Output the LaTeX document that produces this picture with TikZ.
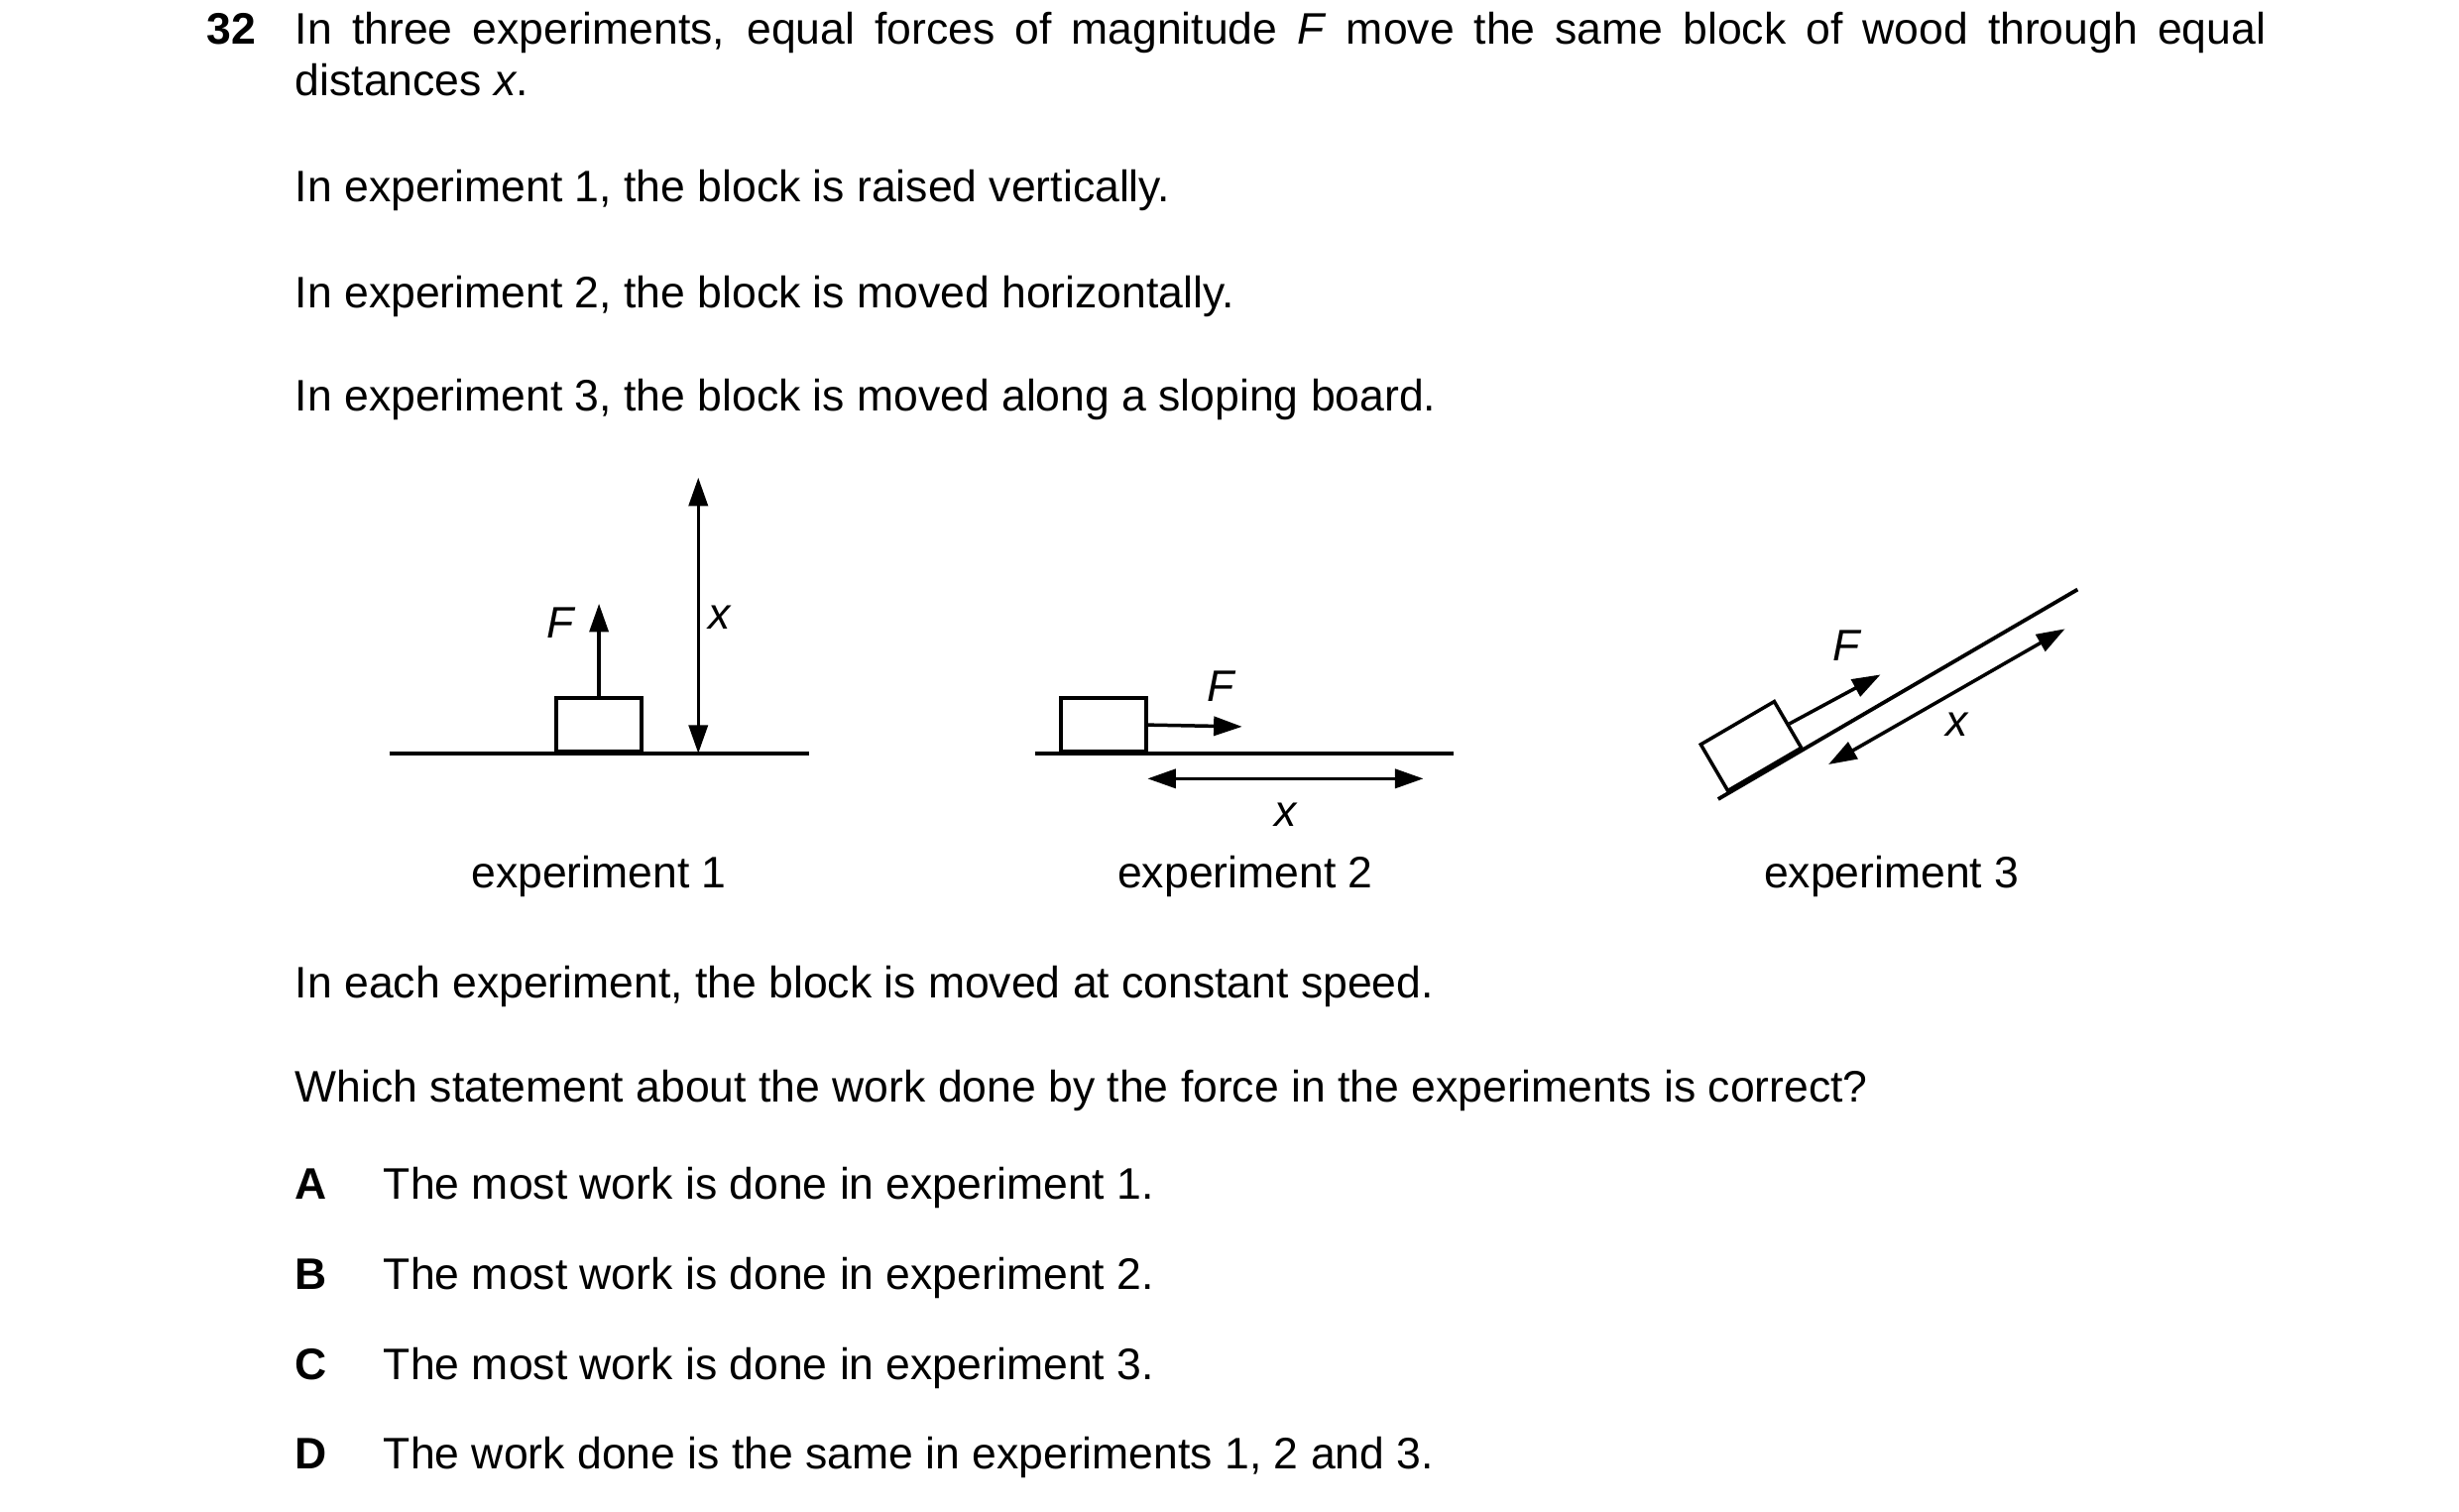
\documentclass[tikz,border=0pt]{standalone}
\usepackage{fontspec}
\setmainfont{Liberation Sans}
\usetikzlibrary{arrows.meta,positioning}
\tikzset{
	txt/.style={anchor=base west, inner sep=0pt, font=\fontsize{14}{16}\selectfont},
	lbl/.style={anchor=base, inner sep=0pt, font=\fontsize{14}{16}\selectfont},
	ground/.style={line width=1.2pt},
	arr/.style={line width=1.1pt, -{Triangle[length=9pt,width=6pt]}},
	darr/.style={line width=1.1pt, {Triangle[length=9pt,width=6pt]}-{Triangle[length=9pt,width=6pt]}},
	block/.style={draw, line width=1.1pt, minimum width=27pt, minimum height=17pt, inner sep=0pt}
}
\begin{document}
\begin{tikzpicture}[x=0.5pt,y=-0.5pt]
	\useasboundingbox (0,0) rectangle (1560,959);

	% question text
	\node[txt, font=\fontsize{14}{16}\selectfont\bfseries] (num) at (131,28) {32};
	\node[txt] (l1) at (187,28) {\makebox[625pt][s]{In three experiments, equal forces of magnitude \textit{F} move the same block of wood through equal}};
	\node[txt] (l2) at (187,61) {distances \textit{x}.};
	\node[txt] (p1) at (187,128) {In experiment 1, the block is raised vertically.};
	\node[txt] (p2) at (187,195) {In experiment 2, the block is moved horizontally.};
	\node[txt] (p3) at (187,261) {In experiment 3, the block is moved along a sloping board.};

	% experiment 1
	\coordinate (g1a) at (247,478);
	\coordinate (g1b) at (513,478);
	\draw[ground] (g1a) -- (g1b);
	\node[block, anchor=south] (b1) at (380,478) {};
	\coordinate (f1) at (380,383);
	\draw[arr] (b1.north) -- (f1);
	\node[lbl] (F1) at (356,405) {\textit{F}};
	\coordinate (x1a) at (443,478);
	\coordinate (x1b) at (443,303);
	\draw[darr] (x1a) -- (x1b);
	\node[lbl] (X1) at (457,399) {\textit{x}};
	\node[lbl] (e1) at (380,563) {experiment 1};

	% experiment 2
	\coordinate (g2a) at (657,478);
	\coordinate (g2b) at (922,478);
	\draw[ground] (g2a) -- (g2b);
	\node[block, anchor=south] (b2) at (700,478) {};
	\coordinate (f2) at (788,461);
	\draw[arr] (b2.east) -- (f2);
	\node[lbl] (F2) at (775,445) {\textit{F}};
	\coordinate (x2a) at (728,494);
	\coordinate (x2b) at (903,494);
	\draw[darr] (x2a) -- (x2b);
	\node[lbl] (X2) at (816,524) {\textit{x}};
	\node[lbl] (e2) at (790,563) {experiment 2};

	% experiment 3
	\coordinate (g3a) at (1090,507);
	\coordinate (g3b) at (1318,374);
	\draw[ground] (g3a) -- (g3b);
	\node[block, rotate=30.3, anchor=south] (b3) at (1120,489) {};
	\coordinate (f3) at (1193,428);
	\draw[arr] (b3.east) -- (f3);
	\node[lbl] (F3) at (1172,419) {\textit{F}};
	\coordinate (x3a) at (1160,485);
	\coordinate (x3b) at (1310,399);
	\draw[darr] (x3a) -- (x3b);
	\node[lbl] (X3) at (1242,467) {\textit{x}};
	\node[lbl] (e3) at (1200,563) {experiment 3};

	% question and options
	\node[txt] (p4) at (187,633) {In each experiment, the block is moved at constant speed.};
	\node[txt] (p5) at (187,699) {Which statement about the work done by the force in the experiments is correct?};
	\foreach \k/\t [count=\i from 0] in {A/The most work is done in experiment 1.,B/The most work is done in experiment 2.,C/The most work is done in experiment 3.,D/The work done is the same in experiments 1{,} 2 and 3.}{
		\node[txt, font=\fontsize{14}{16}\selectfont\bfseries] (k\k) at (187,761+57*\i) {\k};
		\node[txt] (o\k) at (243,761+57*\i) {\t};
	}
\end{tikzpicture}
\end{document}
